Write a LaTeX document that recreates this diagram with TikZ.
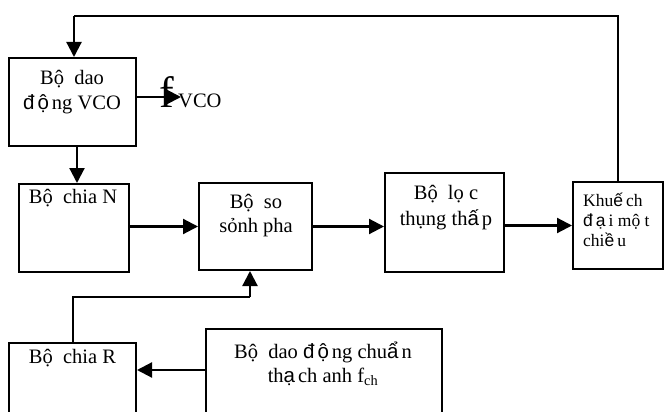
\documentclass[tikz,border=0pt]{standalone}
\usepackage{fontspec}
\setmainfont{Liberation Serif}
\newfontfamily\sansfam{Liberation Sans}
\usetikzlibrary{arrows.meta,calc}
\newcommand{\arl}[1]{{\sansfam #1}\hspace{3pt}}
\begin{document}
\begin{tikzpicture}[x=1pt,y=-1pt,
  box/.style={draw,line width=2pt,rectangle,inner sep=0pt},
  lbl/.style={anchor=base,align=center,inner sep=0pt,font=\fontsize{20.5}{24}\selectfont},
  klbl/.style={anchor=base west,align=left,inner sep=0pt,font=\fontsize{17.5}{20}\selectfont},
  arr/.style={line width=2.2pt,-{Triangle[length=15pt,width=15pt]}},
  ln/.style={line width=2pt}]
\clip (0,0) rectangle (665,412);
\fill[white] (0,0) rectangle (665,412);
% boxes
\node[box,minimum width=127pt,minimum height=88pt] (vco) at (72.5,102) {};
\node[box,minimum width=110pt,minimum height=88pt] (chiaN) at (74,228) {};
\node[box,minimum width=113pt,minimum height=87pt] (sosanh) at (255.5,226.5) {};
\node[box,minimum width=119pt,minimum height=99pt] (loc) at (444.5,222.5) {};
\node[box,minimum width=90pt,minimum height=87pt] (kh) at (618,225.5) {};
\node[box,minimum width=127pt,minimum height=87pt] (chiaR) at (72.5,386.5) {};
\node[box,minimum width=236pt,minimum height=101pt] (chuan) at (324,379.5) {};
% labels (base = last line)
\node[lbl] (tvco) at (72,110) {Bộ\ \ dao\\[1pt]\arl{đ}\arl{ộ}ng VCO};
\node[lbl] (tchiaN) at (73,203) {Bộ\ \ chia N};
\node[lbl] (tsosanh) at (256,232) {Bộ\ \ so\\sỏnh pha};
\node[lbl] (tloc) at (446,225) {Bộ\ \ lọ c\\[1pt]thụng th\arl{ấ}p};
\node[klbl] (tkh) at (583,246) {Khu\arl{ế}ch\\\arl{đ}\arl{ạ}i mộ t\\chi\arl{ề}u};
\node[lbl] (tchiaR) at (72.5,363) {Bộ\ \ chia R};
\node[lbl] (tchuan) at (323,382) {Bộ\ \ dao \arl{đ}\arl{ộ}ng chu\arl{ẩ}n\\th\arl{ạ}ch anh f\textsubscript{ch}};
% connectors
\node[anchor=base west,inner sep=0pt,font=\fontsize{44}{44}\selectfont] (fbig) at (159,107) {f};
\node[anchor=base west,inner sep=0pt,font=\fontsize{20.5}{24}\selectfont] (fvco) at (178,107) {VCO};
\coordinate (fv) at (181,97);
\draw[arr] (vco.east |- fv) -- (fv);
\draw[ln] (kh.north) |- ($(vco.north)+(1.5,-41)$) coordinate (tl);
\draw[arr] (tl) -- (tl |- vco.north);
\draw[arr] ([xshift=4.5pt]vco.south) -- ([xshift=4.5pt]vco.south |- chiaN.north);
\draw[arr] (sosanh.west -| chiaN.east) -- (sosanh.west);
\draw[arr] (sosanh.east) -- (sosanh.east -| loc.west);
\draw[arr] (kh.west -| loc.east) -- (kh.west);
\coordinate (j) at (250,297);
\draw[ln] (chiaR.north) |- (j);
\draw[arr] (j) -- (j |- sosanh.south);
\coordinate (cw) at ($(chuan.west)+(0,-9.5)$);
\draw[arr] (cw) -- (cw -| chiaR.east);
\end{tikzpicture}
\end{document}
